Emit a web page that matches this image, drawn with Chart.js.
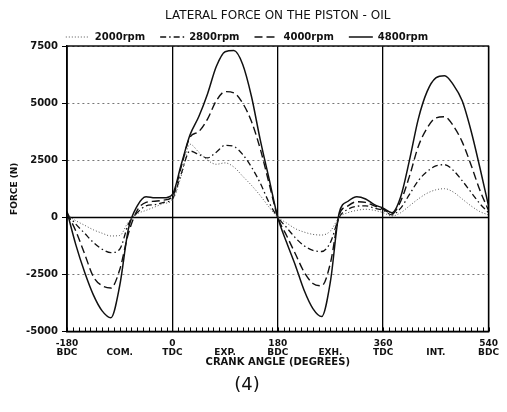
<!DOCTYPE html>
<html>
<head>
<meta charset="utf-8">
<script src="https://cdn.jsdelivr.net/npm/chart.js@4/dist/chart.umd.min.js"></script>
<style>
    html, body { margin: 0; padding: 0; background: #fff; }
</style>
</head>
<body>
<canvas id="forceChart" width="507" height="412"></canvas>
<script>
// ── Data ─────────────────────────────────────────────────
const crankAngle = [
    -180, -165, -150, -135, -120, -105, -90, -75, -60, -45, -30, -15, 0,
    15, 30, 45, 60, 75, 90, 105, 120, 135, 150, 165, 180,
    195, 210, 225, 240, 255, 270, 285, 300, 315, 330, 345, 360,
    375, 390, 405, 420, 435, 450, 465, 480, 495, 510, 525, 540
];
const force2000 = [
    100, -150, -350, -550, -700, -820, -800, -200, 150, 300, 450, 600, 750,
    1800, 3200, 2850, 2500, 2320, 2380, 2200, 1800, 1400, 950, 450, 0,
    -250, -500, -650, -750, -780, -600, 0, 200, 300, 350, 300, 200,
    50, 200, 500, 800, 1050, 1200, 1250, 1100, 800, 500, 250, 100
];
const force2800 = [
    150, -300, -700, -1100, -1400, -1550, -1400, -300, 200, 500, 550, 650, 800,
    1900, 2900, 2750, 2600, 2850, 3150, 3100, 2750, 2200, 1500, 650, 0,
    -450, -900, -1250, -1450, -1500, -1100, 0, 350, 480, 500, 400, 300,
    100, 400, 1000, 1600, 2000, 2250, 2300, 2050, 1600, 1100, 600, 200
];
const force4000 = [
    200, -600, -1600, -2600, -3000, -3100, -2300, -700, 300, 650, 700, 750, 900,
    2200, 3500, 3750, 4300, 5100, 5500, 5450, 5000, 4200, 3000, 1500, 0,
    -800, -1600, -2400, -2900, -3000, -2000, 100, 500, 680, 650, 500, 350,
    150, 700, 1800, 3100, 3900, 4350, 4400, 4000, 3300, 2300, 1200, 300
];
const force4800 = [
    250, -1200, -2400, -3400, -4100, -4400, -3000, -500, 500, 900, 850, 850, 1000,
    2300, 3600, 4400, 5400, 6600, 7250, 7300, 6700, 5300, 3400, 1700, 0,
    -1100, -2100, -3200, -4000, -4350, -2800, 200, 700, 900, 800, 550, 400,
    200, 900, 2500, 4300, 5500, 6100, 6200, 5800, 5100, 3800, 2200, 500
];

const xTickValues = [-180, -90, 0, 90, 180, 270, 360, 450, 540];
const xTickLabels = [
    ["-180", "BDC"], ["", "COM."], ["0", "TDC"], ["", "EXP."], ["180", "BDC"],
    ["", "EXH."], ["360", "TDC"], ["", "INT."], ["540", "BDC"]
];
const chartTitle = "LATERAL FORCE ON THE PISTON - OIL";
const FONT = "'DejaVu Sans', sans-serif";

const toPoints = (values) => values.map((v, i) => ({ x: crankAngle[i], y: v }));

// ── Frame, zero line, minor ticks and centred title ──────
const framePlugin = {
    id: "frame",
    beforeDatasetsDraw(chart) {
        const { ctx, chartArea: a, scales: { y } } = chart;
        const y0 = Math.round(y.getPixelForValue(0)) + 0.5;
        ctx.save();
        ctx.strokeStyle = "#000";
        ctx.lineWidth = 1.3;
        ctx.beginPath();
        ctx.moveTo(a.left, y0);
        ctx.lineTo(a.right, y0);
        ctx.stroke();
        ctx.restore();
    },
    afterDatasetsDraw(chart) {
        const { ctx, chartArea: a, scales: { x } } = chart;
        ctx.save();
        ctx.strokeStyle = "#000";
        ctx.lineWidth = 1.4;
        ctx.strokeRect(a.left, a.top, a.right - a.left, a.bottom - a.top);
        ctx.lineWidth = 1;
        ctx.beginPath();
        for (let d = x.min; d <= x.max; d += 10) {
            const px = Math.round(x.getPixelForValue(d)) + 0.5;
            ctx.moveTo(px, a.bottom);
            ctx.lineTo(px, a.bottom - 4);
        }
        ctx.stroke();

        ctx.fillStyle = "#111";
        ctx.font = `12px ${FONT}`;
        ctx.textAlign = "center";
        ctx.textBaseline = "middle";
        ctx.fillText(chartTitle, (a.left + a.right) / 2, 16);
        ctx.restore();
    }
};

new Chart(document.getElementById("forceChart"), {
    type: "line",
    data: {
        datasets: [
            { label: "2000rpm", data: toPoints(force2000), borderDash: [1, 2], borderWidth: 1, borderColor: "#555" },
            { label: "2800rpm", data: toPoints(force2800), borderDash: [6, 3, 1.5, 3], borderWidth: 1.3, borderColor: "#111" },
            { label: "4000rpm", data: toPoints(force4000), borderDash: [8, 4], borderWidth: 1.4, borderColor: "#111" },
            { label: "4800rpm", data: toPoints(force4800), borderWidth: 1.5, borderColor: "#111" }
        ].map((ds) => ({
            ...ds,
            backgroundColor: "rgba(0,0,0,0)",
            pointRadius: 0,
            cubicInterpolationMode: "monotone",
            fill: false
        }))
    },
    options: {
        responsive: false,
        animation: false,
        layout: { padding: { top: 17, left: 0, right: 13, bottom: 16 } },
        plugins: {
            legend: {
                position: "top",
                maxHeight: 29,
                labels: {
                    usePointStyle: true,
                    pointStyle: "line",
                    pointStyleWidth: 24,
                    padding: 15,
                    color: "#111",
                    font: { family: FONT, size: 10, weight: "bold" },
                    // point-style items lose the dataset dash, so copy it back
                    generateLabels: (chart) =>
                        Chart.defaults.plugins.legend.labels.generateLabels(chart).map((item) => {
                            const ds = chart.data.datasets[item.datasetIndex];
                            return {
                                ...item,
                                lineDash: ds.borderDash || [],
                                lineWidth: ds.borderWidth,
                                strokeStyle: ds.borderColor
                            };
                        })
                }
            },
            subtitle: {
                display: true,
                position: "bottom",
                text: "(4)",
                color: "#111",
                padding: 0,
                font: { family: FONT, size: 18 }
            },
            tooltip: { enabled: false }
        },
        scales: {
            x: {
                type: "linear",
                min: -180,
                max: 540,
                afterBuildTicks: (axis) => {
                    axis.ticks = xTickValues.map((value) => ({ value }));
                },
                afterFit: (axis) => { axis.height = 43; },
                ticks: {
                    autoSkip: false,
                    maxRotation: 0,
                    padding: 8,
                    color: "#111",
                    font: { family: FONT, size: 9, weight: "bold", lineHeight: 1 },
                    callback: (value) => xTickLabels[xTickValues.indexOf(value)] ?? ""
                },
                grid: {
                    drawTicks: false,
                    lineWidth: 1.3,
                    color: (c) => (c.tick && c.tick.value % 180 === 0 ? "#000" : "rgba(0,0,0,0)")
                },
                border: { display: true, color: "#000", width: 1.4 },
                title: {
                    display: true,
                    text: "CRANK ANGLE (DEGREES)",
                    color: "#111",
                    padding: { top: 0, bottom: 7 },
                    font: { family: FONT, size: 10, weight: "bold", lineHeight: 1 }
                }
            },
            y: {
                min: -5000,
                max: 7500,
                afterFit: (axis) => { axis.width = 67; },
                ticks: {
                    stepSize: 2500,
                    padding: 4,
                    color: "#111",
                    font: { family: FONT, size: 10, weight: "bold" },
                    callback: (value) => String(value)
                },
                grid: {
                    tickLength: 5,
                    tickColor: "#000",
                    tickBorderDash: [],
                    color: (c) => (c.tick && c.tick.value === 0 ? "rgba(0,0,0,0)" : "#777")
                },
                border: { display: true, color: "#000", width: 1.4, dash: [2, 3] },
                title: {
                    display: true,
                    text: "FORCE (N)",
                    color: "#111",
                    padding: { top: 10, bottom: 0 },
                    font: { family: FONT, size: 9, weight: "bold", lineHeight: 1 }
                }
            }
        }
    },
    plugins: [framePlugin]
});
</script>
</body>
</html>
